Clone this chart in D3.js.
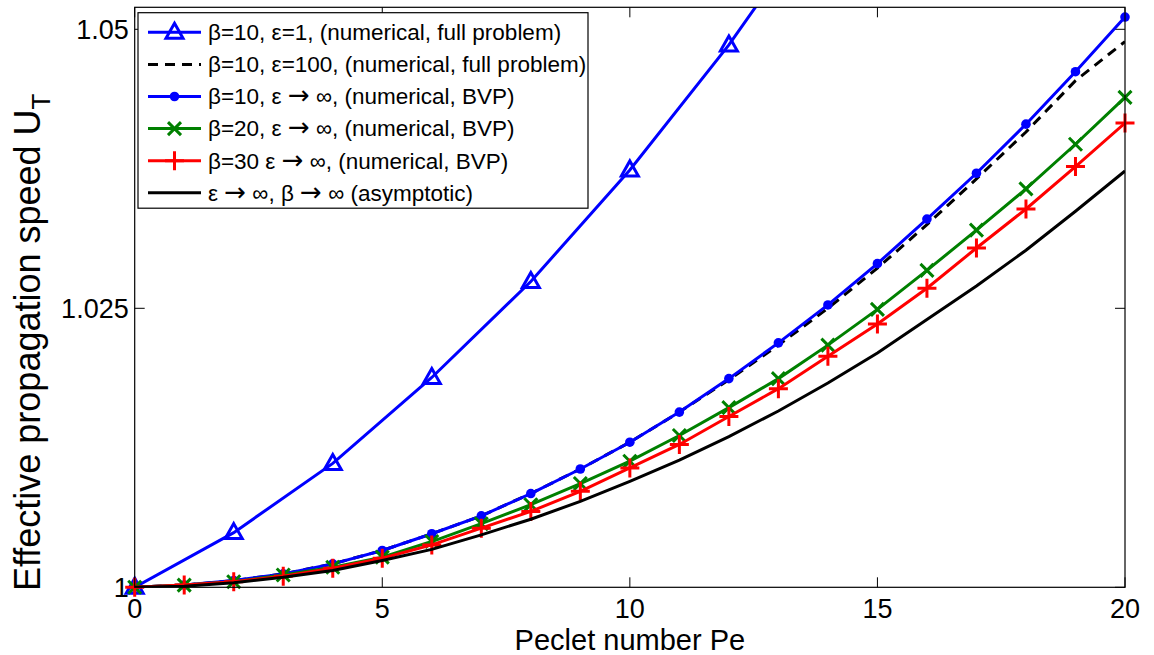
<!DOCTYPE html>
<html>
<head>
<meta charset="utf-8">
<script src="https://cdn.jsdelivr.net/npm/d3@7"></script>
<style>
  body { margin: 0; background: #fff; }
  svg { display: block; font-family: "Liberation Sans", Arial, sans-serif; }
</style>
</head>
<body>
<div id="app"></div>
<script>
// Peclet numbers
const peAll = [0, 1, 2, 3, 4, 5, 6, 7, 8, 9, 10, 11, 12, 13, 14, 15, 16, 17, 18, 19, 20];
const peEven = [0, 2, 4, 6, 8, 10, 12, 14];

// series values
const b10eps1 = [1.0, 1.0049, 1.0111, 1.0188, 1.0274, 1.0374, 1.0486, 1.0612];
const b10eps100 = [1.0, 1.0002, 1.0006, 1.0012, 1.0021, 1.0033, 1.0048, 1.0064, 1.0084, 1.0106, 1.0130,
  1.0157, 1.0186, 1.0217, 1.0250, 1.0286, 1.0325, 1.0366, 1.0408, 1.0454, 1.0489];
const b10bvp = [1.0, 1.0002, 1.0006, 1.0012, 1.0021, 1.0033, 1.0048, 1.0064, 1.0084, 1.0106, 1.0130,
  1.0157, 1.0187, 1.0219, 1.0253, 1.0290, 1.0330, 1.0371, 1.0415, 1.0462, 1.0511];
const b20bvp = [1.0, 1.0002, 1.0005, 1.0011, 1.0018, 1.0027, 1.0041, 1.0057, 1.0074, 1.0093, 1.0113,
  1.0136, 1.0161, 1.0187, 1.0217, 1.0249, 1.0284, 1.0320, 1.0357, 1.0397, 1.0439];
const b30bvp = [1.0, 1.0002, 1.0005, 1.0010, 1.0017, 1.0026, 1.0038, 1.0053, 1.0068, 1.0086, 1.0107,
  1.0128, 1.0153, 1.0178, 1.0207, 1.0236, 1.0268, 1.0304, 1.0339, 1.0377, 1.0416];
const asym = [1.0, 1.0001, 1.0004, 1.0009, 1.0015, 1.0024, 1.0034, 1.0047, 1.0061, 1.0077, 1.0095,
  1.0114, 1.0135, 1.0158, 1.0183, 1.0210, 1.0240, 1.0270, 1.0302, 1.0337, 1.0373];

const xTicks = [0, 5, 10, 15, 20];
const yTicks = [1, 1.025, 1.05];
const yTickLabels = ["1", "1.025", "1.05"];

const legendLabels = [
  "β=10, ε=1, (numerical, full problem)",
  "β=10, ε=100, (numerical, full problem)",
  "β=10, ε → ∞, (numerical, BVP)",
  "β=20, ε → ∞, (numerical, BVP)",
  "β=30 ε → ∞, (numerical, BVP)",
  "ε → ∞, β → ∞ (asymptotic)"
];

const W = 1154, H = 655;
const margin = { left: 134.7, top: 7.3, right: 29, bottom: 67.7 };
const width = W - margin.left - margin.right;
const height = H - margin.top - margin.bottom;

const series = [
  { xs: peEven, ys: b10eps1, color: "#0000ff", dash: null, marker: "tri" },
  { xs: peAll, ys: b10eps100, color: "#000000", dash: "10,7", marker: null },
  { xs: peAll, ys: b10bvp, color: "#0000ff", dash: null, marker: "dot" },
  { xs: peAll, ys: b20bvp, color: "#008000", dash: null, marker: "x" },
  { xs: peAll, ys: b30bvp, color: "#ff0000", dash: null, marker: "plus" },
  { xs: peAll, ys: asym, color: "#000000", dash: null, marker: null }
];

const svg = d3.select("#app").append("svg")
  .attr("width", W)
  .attr("height", H);

const g = svg.append("g")
  .attr("transform", `translate(${margin.left},${margin.top})`);

const x = d3.scaleLinear().domain([0, 20]).range([0, width]);
// 1.05 sits 22px below the top edge of the box
const y = d3.scaleLinear().domain([1, 1.05]).range([height, 22]);
const yMax = y.invert(0);

svg.append("defs").append("clipPath").attr("id", "clip")
  .append("rect").attr("width", width).attr("height", height);

// ticks (inward, all four sides)
const tickLen = 10;
xTicks.forEach(t => {
  g.append("line").attr("x1", x(t)).attr("x2", x(t)).attr("y1", height).attr("y2", height - tickLen)
    .attr("stroke", "#000").attr("stroke-width", 1);
  g.append("line").attr("x1", x(t)).attr("x2", x(t)).attr("y1", 0).attr("y2", tickLen)
    .attr("stroke", "#000").attr("stroke-width", 1);
  g.append("text").attr("x", x(t)).attr("y", height + 31)
    .attr("text-anchor", "middle").attr("font-size", 27).text(t);
});
yTicks.forEach((t, i) => {
  g.append("line").attr("x1", 0).attr("x2", tickLen).attr("y1", y(t)).attr("y2", y(t))
    .attr("stroke", "#000").attr("stroke-width", 1);
  g.append("line").attr("x1", width).attr("x2", width - tickLen).attr("y1", y(t)).attr("y2", y(t))
    .attr("stroke", "#000").attr("stroke-width", 1);
  g.append("text").attr("x", -6).attr("y", y(t)).attr("dy", "0.35em")
    .attr("text-anchor", "end").attr("font-size", 27).text(yTickLabels[i]);
});

// lines
const line = d3.line().x(d => x(d[0])).y(d => y(d[1]));
const plot = g.append("g");
series.forEach(s => {
  const pts = s.xs.map((v, i) => [v, s.ys[i]]);
  plot.append("path")
    .datum(pts)
    .attr("clip-path", "url(#clip)")
    .attr("fill", "none")
    .attr("stroke", s.color)
    .attr("stroke-width", 3)
    .attr("stroke-dasharray", s.dash)
    .attr("d", line);
  const inView = pts.filter(d => d[1] <= yMax);
  inView.forEach(d => drawMarker(plot, s.marker, x(d[0]), y(d[1]), s.color));
});

function drawMarker(sel, type, cx, cy, color) {
  if (type === "tri") {
    sel.append("path")
      .attr("d", `M${cx},${cy - 9}L${cx + 8.5},${cy + 6}L${cx - 8.5},${cy + 6}Z`)
      .attr("fill", "none").attr("stroke", color).attr("stroke-width", 3);
  } else if (type === "dot") {
    sel.append("circle").attr("cx", cx).attr("cy", cy).attr("r", 4.8).attr("fill", color);
  } else if (type === "x") {
    const r = 6.5;
    sel.append("path")
      .attr("d", `M${cx - r},${cy - r}L${cx + r},${cy + r}M${cx - r},${cy + r}L${cx + r},${cy - r}`)
      .attr("stroke", color).attr("stroke-width", 3);
  } else if (type === "plus") {
    const r = 9.5;
    sel.append("path")
      .attr("d", `M${cx - r},${cy}L${cx + r},${cy}M${cx},${cy - r}L${cx},${cy + r}`)
      .attr("stroke", color).attr("stroke-width", 3);
  }
}

// axes box
g.append("rect").attr("width", width).attr("height", height)
  .attr("fill", "none").attr("stroke", "#000").attr("stroke-width", 1.2);

// axis labels
g.append("text").attr("x", width / 2).attr("y", height + 63)
  .attr("text-anchor", "middle").attr("font-size", 29).text("Peclet number Pe");

const yl = svg.append("text")
  .attr("transform", `translate(40,${margin.top + height / 2 + 45}) rotate(-90)`)
  .attr("text-anchor", "middle").attr("font-size", 36);
yl.append("tspan").text("Effective propagation speed U");
yl.append("tspan").attr("font-size", 26).attr("dy", 10).text("T");

// legend
const lg = svg.append("g").attr("transform", "translate(138,12.7)");
lg.append("rect").attr("width", 450).attr("height", 195.5)
  .attr("fill", "#fff").attr("stroke", "#000").attr("stroke-width", 1.2);
legendLabels.forEach((lab, i) => {
  const s = series[i];
  const ly = 19.6 + i * 32.1;
  lg.append("line").attr("x1", 10).attr("x2", 63).attr("y1", ly).attr("y2", ly)
    .attr("stroke", s.color).attr("stroke-width", 3).attr("stroke-dasharray", s.dash);
  drawMarker(lg, s.marker, 36.5, ly, s.color);
  const t = lg.append("text").attr("x", 70).attr("y", ly).attr("dy", "0.35em")
    .attr("font-size", 22.5);
  // arrows drawn with DejaVu, whose arrow glyph is fuller
  lab.split("→").forEach((part, j) => {
    if (j > 0) t.append("tspan").attr("font-family", "DejaVu Sans").attr("font-size", 26).text("→");
    t.append("tspan").text(part);
  });
});
</script>
</body>
</html>
